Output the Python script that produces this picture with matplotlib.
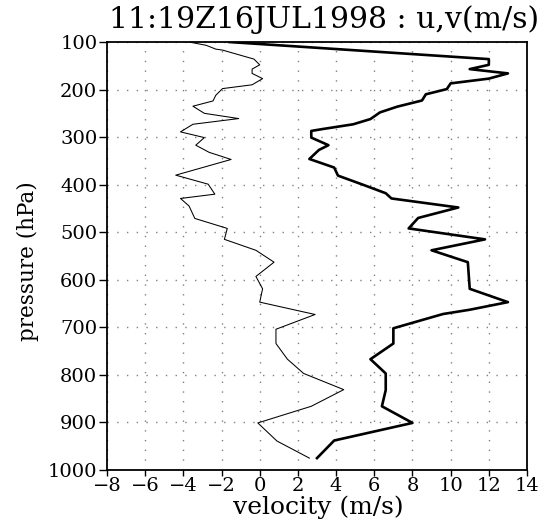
import matplotlib
matplotlib.use("Agg")
import matplotlib.pyplot as plt
import numpy as np

# u component (thick line)
u_pres = [100, 136, 148, 157, 166, 177, 187, 199, 210, 223, 236, 248, 262, 273, 283, 287,
          301, 317, 327, 346, 364, 381, 400, 418, 429, 448, 470, 492, 515, 538, 563, 619,
          647, 663, 672, 702, 734, 767, 797, 832, 866, 901, 938, 975]
u_vals = [-1.6, 12.0, 12.0, 11.0, 13.0, 12.0, 10.0, 9.8, 8.7, 8.5, 7.2, 6.3, 5.8, 4.9, 3.3, 2.7,
          2.7, 3.6, 3.1, 2.6, 3.9, 4.1, 5.4, 6.6, 6.9, 10.4, 8.3, 7.8, 11.8, 9.0, 10.9, 11.0,
          13.0, 11.0, 9.6, 7.0, 7.0, 5.8, 6.6, 6.6, 6.4, 8.0, 3.9, 3.0]

# v component (thin line)
v_pres = [100, 107, 115, 117, 136, 148, 157, 166, 177, 190, 198, 212, 224, 235, 250, 261,
          273, 289, 301, 317, 332, 347, 380, 399, 420, 429, 445, 471, 492, 515, 538, 563,
          593, 619, 647, 673, 704, 734, 767, 797, 831, 866, 901, 939, 975]
v_vals = [-3.7, -2.8, -2.3, -1.95, -0.3, 0.0, -0.4, -0.4, 0.15, -0.4, -1.95, -2.3, -2.45, -3.5, -2.9, -1.1,
          -3.5, -4.15, -2.9, -3.35, -2.65, -1.5, -4.4, -2.7, -2.35, -4.15, -3.7, -3.4, -1.7, -1.85, -0.2, 0.75,
          -0.2, 0.15, 0.0, 2.9, 0.85, 0.85, 1.45, 2.3, 4.4, 2.7, -0.1, 0.9, 2.6]

plt.rcParams['font.family'] = ['DejaVu Serif']

fig = plt.figure(figsize=(5.42, 5.19), dpi=100)
ax = fig.add_axes([107/542, 1 - 470/519, 420/542, 428/519])

ax.plot(u_vals, u_pres, color='black', linewidth=1.9)
ax.plot(v_vals, v_pres, color='black', linewidth=0.75)

ax.set_xlim(-8, 14)
ax.set_ylim(1000, 100)
ax.set_xticks(np.arange(-8, 15, 2))
ax.set_yticks(np.arange(100, 1001, 100))
ax.tick_params(labelsize=14, direction='out', width=1)
ax.tick_params(axis='x', length=4, pad=1)
ax.tick_params(axis='y', length=6, pad=1)
ax.grid(True, linestyle=(0, (1, 6)), color='gray', linewidth=1)
for s in ax.spines.values():
    s.set_linewidth(1.3)

fig.text(539/542, 1 - 28/519, '11:19Z16JUL1998 : u,v(m/s)', fontsize=21.5,
         ha='right', va='baseline')
ax.set_xlabel('velocity (m/s)', fontsize=18, va='baseline')
ax.xaxis.set_label_coords(0.502, -0.103)
ax.set_ylabel('pressure (hPa)', fontsize=15.5, va='center', ha='center')
ax.yaxis.set_label_coords(-0.188, 0.488)

fig.savefig('out.png', dpi=100)
